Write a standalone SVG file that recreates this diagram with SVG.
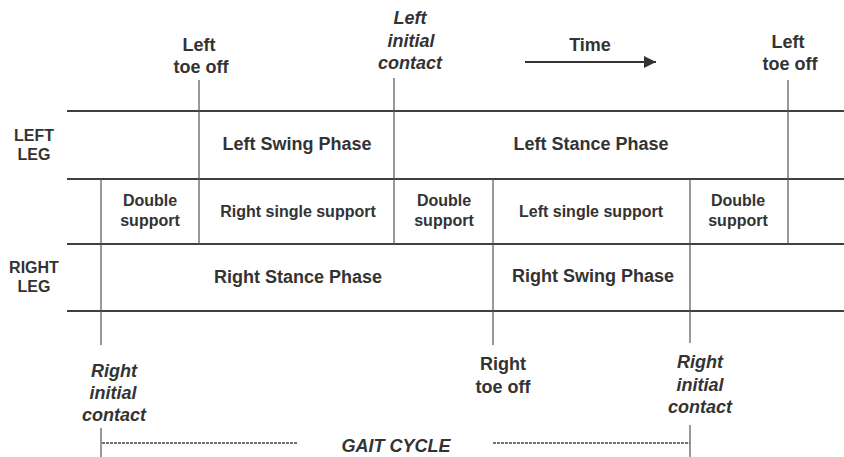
<svg xmlns="http://www.w3.org/2000/svg" width="844" height="457" viewBox="0 0 844 457">
<defs>
<style>
text{font-family:"Liberation Sans",Arial,sans-serif;font-weight:bold;fill:#333;text-anchor:middle}
.it{font-style:italic}
.s18{font-size:18px}
.s16{font-size:16px}
.h{stroke:#3d423b;stroke-width:2;fill:none}
.v{stroke:#555;stroke-width:1.2;fill:none}
.d{stroke:#444;stroke-width:1.3;stroke-dasharray:3 1;fill:none}
</style>
<marker id="ah" viewBox="0 0 10 10" refX="10" refY="5" markerWidth="16" markerHeight="12" markerUnits="userSpaceOnUse" orient="auto">
<path d="M0,0 L10,5 L0,10 z" fill="#333"/>
</marker>
</defs>
<rect width="844" height="457" fill="#fff"/>

<g id="connectors">
<line class="h" x1="67" y1="111" x2="844" y2="111"/>
<line class="h" x1="67" y1="179" x2="844" y2="179"/>
<line class="h" x1="67" y1="244" x2="844" y2="244"/>
<line class="h" x1="67" y1="311" x2="844" y2="311"/>
<line class="v" x1="101" y1="179" x2="101" y2="345"/>
<line class="v" x1="101" y1="428" x2="101" y2="457"/>
<line class="v" x1="199" y1="80" x2="199" y2="244"/>
<line class="v" x1="394" y1="78" x2="394" y2="244"/>
<line class="v" x1="493" y1="179" x2="493" y2="345"/>
<line class="v" x1="690" y1="179" x2="690" y2="343"/>
<line class="v" x1="690" y1="425" x2="690" y2="457"/>
<line class="v" x1="788" y1="80" x2="788" y2="244"/>
<line class="d" x1="102" y1="443" x2="298" y2="443"/>
<line class="d" x1="493" y1="443" x2="690" y2="443"/>
<line x1="525" y1="62" x2="656" y2="62" stroke="#333" stroke-width="2" marker-end="url(#ah)"/>
</g>

<g id="time"><text class="s18" x="590" y="51">Time</text></g>

<g id="left-toe-off-1"><text class="s18" x="199" y="51">Left</text><text class="s18" x="201" y="73">toe off</text></g>
<g id="left-initial-contact"><text class="s18 it" x="410" y="24">Left</text><text class="s18 it" x="411" y="47">initial</text><text class="s18 it" x="410" y="69">contact</text></g>
<g id="left-toe-off-2"><text class="s18" x="788" y="48">Left</text><text class="s18" x="790" y="70">toe off</text></g>

<g id="left-leg"><text class="s16" x="34" y="141">LEFT</text><text class="s16" x="34" y="160">LEG</text></g>
<g id="right-leg"><text class="s16" x="34" y="273">RIGHT</text><text class="s16" x="34" y="292">LEG</text></g>

<g id="left-swing"><text class="s18" x="297" y="150">Left Swing Phase</text></g>
<g id="left-stance"><text class="s18" x="591" y="150">Left Stance Phase</text></g>

<g id="double-support-1"><text class="s16" x="150" y="206">Double</text><text class="s16" x="150" y="226">support</text></g>
<g id="right-single"><text class="s16" x="298" y="217">Right single support</text></g>
<g id="double-support-2"><text class="s16" x="444" y="206">Double</text><text class="s16" x="444" y="226">support</text></g>
<g id="left-single"><text class="s16" x="591" y="217">Left single support</text></g>
<g id="double-support-3"><text class="s16" x="738" y="206">Double</text><text class="s16" x="738" y="226">support</text></g>

<g id="right-stance"><text class="s18" x="298" y="283">Right Stance Phase</text></g>
<g id="right-swing"><text class="s18" x="593" y="282">Right Swing Phase</text></g>

<g id="right-initial-contact-1"><text class="s18 it" x="114" y="377">Right</text><text class="s18 it" x="113" y="399">initial</text><text class="s18 it" x="114" y="421">contact</text></g>
<g id="right-toe-off"><text class="s18" x="503" y="370">Right</text><text class="s18" x="503" y="393">toe off</text></g>
<g id="right-initial-contact-2"><text class="s18 it" x="700" y="368">Right</text><text class="s18 it" x="700" y="391">initial</text><text class="s18 it" x="700" y="413">contact</text></g>

<g id="gait-cycle"><text class="s18 it" x="396" y="452">GAIT CYCLE</text></g>
</svg>
